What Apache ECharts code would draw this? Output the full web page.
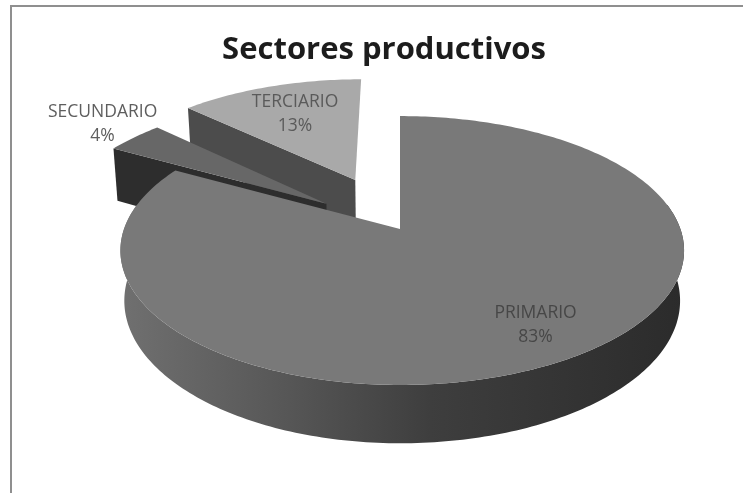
<!DOCTYPE html>
<html>
<head>
<meta charset="utf-8">
<style>html,body{margin:0;padding:0;background:#fff}#c{width:743px;height:493px;filter:blur(0.6px)}</style>
<script src="https://cdn.jsdelivr.net/npm/echarts@6/dist/echarts.min.js"></script>
</head>
<body>
<div id="c"></div>
<script>
const chartTitle = 'Sectores productivos';
const categories = ['PRIMARIO', 'SECUNDARIO', 'TERCIARIO'];
const percentages = [83, 4, 13];

// pie look: exploded offsets and label placement, in pie radii
const explode = [0, 0.34, 0.434];
const sliceDepth = [49, 58, 58];
const labelRadius = [0.786, 1.2, 0.68];
const labelNudgeDeg = [-2.8, 0.8, 0];
const topColors = ['#797979', '#676767', '#a9a9a9'];
const sideColors = [
  { type: 'linear', x: 0, y: 0, x2: 1, y2: 0, colorStops: [
    { offset: 0, color: '#707070' }, { offset: 0.3, color: '#565656' },
    { offset: 0.55, color: '#3e3e3e' }, { offset: 1, color: '#2b2b2b' } ] },
  '#2d2d2d', '#4c4c4c'
];
const labelColors = ['#474747', '#5e5e5e', '#5a5a5a'];

// projection of the tilted pie plane
const view = { cx: 400, cy: 229, aLeft: 276, aRight: 280.4, b: 131, k: 0.16, shrink: 0.986 };
function project(X, Y, depth) {
  const w = 1 - view.k * Y;
  let x = view.cx + (X < 0 ? view.aLeft : view.aRight) * X / w;
  let y = view.cy + view.b * Y / w;
  if (depth) { x = view.cx + (x - view.cx) * view.shrink; y += depth / w; }
  return [x, y];
}
const total = percentages.reduce((s, v) => s + v, 0);
const starts = [];
percentages.reduce((s, v, i) => { starts[i] = s; return s + v; }, 0);
const rad = d => d * Math.PI / 180;

function renderSlice(params, api) {
  const i = api.value(1);
  const value = api.value(0);
  const a0 = starts[i] / total * 360;
  const a1 = a0 + value / total * 360;
  const mid = rad((a0 + a1) / 2);
  const ox = Math.sin(mid) * explode[i];
  const oy = -Math.cos(mid) * explode[i];
  const onRim = d => [ox + Math.sin(rad(d)), oy - Math.cos(rad(d))];
  const arc = [];
  const wallArc = [];
  for (let d = a0; d <= a1; d += 1) {
    arc.push(onRim(d));
    if (-Math.cos(rad(d)) > -0.2) wallArc.push(onRim(d));
  }
  arc.push(onRim(a1));
  const upper = arc.map(p => project(p[0], p[1], 0));
  const apexU = project(ox, oy, 0);
  const apexL = project(ox, oy, sliceDepth[i]);
  const firstL = project(arc[0][0], arc[0][1], sliceDepth[i]);
  const children = [];
  // cut face at the start of the slice (hidden under the top for the first slice)
  if (i > 0) {
    children.push({ type: 'polygon', shape: { points: [apexU, upper[0], firstL, apexL] },
      style: { fill: sideColors[i] } });
  }
  // outer wall: only the rim that faces the viewer
  if (wallArc.length > 1) {
    const wallU = wallArc.map(p => project(p[0], p[1], 0));
    const wallL = wallArc.map(p => project(p[0], p[1], sliceDepth[i])).reverse();
    children.push({ type: 'polygon', shape: { points: wallU.concat(wallL) }, style: { fill: sideColors[i] } });
  }
  // top face
  children.push({ type: 'polygon', shape: { points: [apexU].concat(upper) }, style: { fill: topColors[i] } });
  // label
  const la = rad((a0 + a1) / 2 + labelNudgeDeg[i]);
  const lp = project(ox + Math.sin(la) * labelRadius[i], oy - Math.cos(la) * labelRadius[i], 0);
  children.push({ type: 'text', x: lp[0], y: lp[1], z2: 10, style: {
    text: categories[i] + '\n' + value + '%',
    fill: labelColors[i], font: '17.5px "Open Sans", sans-serif', lineHeight: 24,
    align: 'center', verticalAlign: 'middle' } });
  return { type: 'group', children };
}

const order = [2, 1, 0]; // back slices first
const chart = echarts.init(document.getElementById('c'), null, { renderer: 'canvas' });
chart.setOption({
  animation: false,
  backgroundColor: '#ffffff',
  title: { text: chartTitle, left: 379, top: 30, textAlign: 'center',
    textStyle: { fontFamily: '"Open Sans", sans-serif', fontWeight: 'bold', fontSize: 31, color: '#1c1c1c' } },
  graphic: [{ type: 'rect', silent: true, shape: { x: 11, y: 6, width: 760, height: 520 },
    style: { fill: 'none', stroke: '#8f8f8f', lineWidth: 2 } }],
  series: [{
    type: 'custom', coordinateSystem: 'none', silent: true, renderItem: renderSlice,
    data: order.map(i => [percentages[i], i])
  }]
});
</script>
</body>
</html>
